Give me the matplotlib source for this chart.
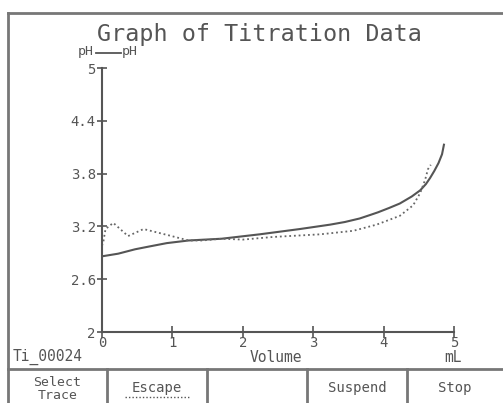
import matplotlib
matplotlib.use("Agg")
import matplotlib.pyplot as plt
from matplotlib.lines import Line2D

# ---- data ----
solid_vol = [0, 0.23, 0.47, 0.66, 0.92, 1.23, 1.70, 2.24, 2.81, 3.24, 3.45, 3.66, 3.81, 3.92, 4.08,
             4.23, 4.40, 4.52, 4.60, 4.66, 4.72, 4.78, 4.83, 4.86]
solid_ph = [2.86, 2.89, 2.94, 2.97, 3.01, 3.04, 3.06, 3.11, 3.17, 3.22, 3.25, 3.29, 3.33, 3.36, 3.41,
            3.46, 3.54, 3.61, 3.68, 3.75, 3.83, 3.92, 4.02, 4.14]

dotted_vol = [0, 0.02, 0.05, 0.16, 0.37, 0.59, 0.94, 1.23, 1.42, 1.70, 2.0, 2.43, 3.10, 3.57, 3.90,
              4.23, 4.42, 4.52, 4.59, 4.63, 4.67]
dotted_ph = [2.98, 3.03, 3.17, 3.24, 3.09, 3.17, 3.10, 3.04, 3.04, 3.06, 3.05, 3.08, 3.11, 3.15, 3.22,
             3.32, 3.44, 3.58, 3.73, 3.85, 3.90]

y_ticks = [2, 2.6, 3.2, 3.8, 4.4, 5]
y_tick_labels = ["2", "2.6", "3.2", "3.8", "4.4", "5"]
x_ticks = [0, 1, 2, 3, 4, 5]
x_tick_labels = ["0", "1", "2", "3", "4", "5"]
buttons = ["Select\nTrace", "Escape", "", "Suspend", "Stop"]

W, H = 503, 403
MONO = "DejaVu Sans Mono"
GRAY = "#555555"
FRAME = "#777777"

fig = plt.figure(figsize=(W / 100, H / 100), dpi=100)
fig.patch.set_facecolor("white")

x0, x1 = 102, 454
y0, y1 = 332, 68
ax = fig.add_axes([x0 / W, (H - y0) / H, (x1 - x0) / W, (y0 - y1) / H])
ax.set_xlim(0, 5)
ax.set_ylim(2, 5)
ax.set_facecolor("none")
for s in ["top", "right"]:
    ax.spines[s].set_visible(False)
for s in ["left", "bottom"]:
    ax.spines[s].set_color(GRAY)
    ax.spines[s].set_linewidth(1.5)

ax.plot(solid_vol, solid_ph, color="#555555", lw=1.5, solid_capstyle="butt")
ax.plot(dotted_vol, dotted_ph, color="#666666", lw=1.3, linestyle=(0, (1, 1.6)))

ax.set_yticks(y_ticks)
ax.set_yticklabels(y_tick_labels, fontfamily=MONO, fontsize=10, color=GRAY)
ax.set_xticks(x_ticks)
ax.set_xticklabels(x_tick_labels, fontfamily=MONO, fontsize=10, color=GRAY)
ax.tick_params(axis="y", direction="inout", length=7, width=1.2, color=GRAY, pad=1)
ax.tick_params(axis="x", direction="inout", length=8, width=1.2, color=GRAY, pad=-1)

ov = fig.add_axes([0, 0, 1, 1], zorder=-1)
ov.set_xlim(0, W)
ov.set_ylim(H, 0)
ov.axis("off")

def hline(y, xa, xb, lw=1.5):
    ov.add_line(Line2D([xa, xb], [y, y], color=FRAME, lw=lw))

def vline(x, ya, yb, lw=1.5):
    ov.add_line(Line2D([x, x], [ya, yb], color=FRAME, lw=lw))

hline(13, 8, W, lw=2)
vline(8, 13, H, lw=2)
hline(369, 8, W, lw=2)
for bx in [107, 207, 307, 407]:
    vline(bx, 369, H, lw=2)

ov.text(97, 34, "Graph of Titration Data", fontfamily=MONO, fontsize=16.8,
        color=GRAY, ha="left", va="center")

ov.text(94, 52, "pH", fontfamily=MONO, fontsize=9.5, color=GRAY, ha="right", va="center")
ov.add_line(Line2D([96, 121], [53, 53], color=GRAY, lw=1.3))
ov.text(122, 52, "pH", fontfamily=MONO, fontsize=9.5, color=GRAY, ha="left", va="center")

ov.text(13, 357, "Ti_00024", fontfamily=MONO, fontsize=10.5, color=GRAY, ha="left", va="center")
ov.text(276, 357, "Volume", fontfamily=MONO, fontsize=10.5, color=GRAY, ha="center", va="center")
ov.text(453, 357, "mL", fontfamily=MONO, fontsize=10.5, color=GRAY, ha="center", va="center")

edges = [8, 107, 207, 307, 407, W]
for i, lab in enumerate(buttons):
    if not lab:
        continue
    cx = (edges[i] + edges[i + 1]) / 2
    if "\n" in lab:
        ov.text(cx, 389, lab, fontfamily=MONO, fontsize=9.5, color=GRAY,
                ha="center", va="center", linespacing=0.95)
    else:
        ov.text(cx, 388, lab, fontfamily=MONO, fontsize=10, color=GRAY,
                ha="center", va="center")
ov.add_line(Line2D([125, 190], [397, 397], color=GRAY, lw=1, linestyle=(0, (1, 1.5))))

fig.savefig("out.png", dpi=100, facecolor="white")
